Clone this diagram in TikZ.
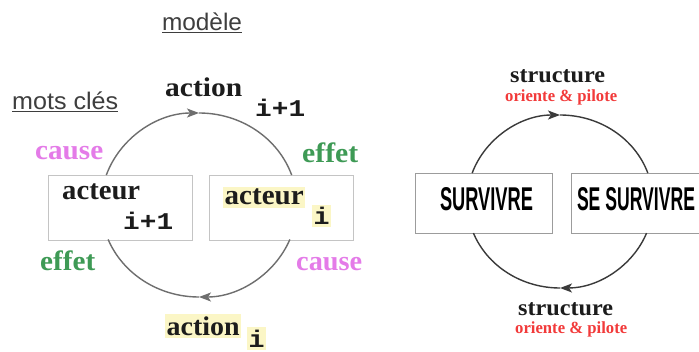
\documentclass[tikz,border=0pt]{standalone}
\usepackage{fontspec}
\setmainfont{Liberation Serif}
\setsansfont{Liberation Sans}
\setmonofont{Liberation Mono}
\usepackage{graphicx}
\usetikzlibrary{arrows.meta,calc}
\definecolor{pinkc}{HTML}{E47BE8}
\definecolor{greenc}{HTML}{3E9A55}
\definecolor{redc}{HTML}{F23A3A}
\definecolor{hl}{HTML}{FBF6C6}
\definecolor{arcl}{HTML}{6E6E6E}
\definecolor{arcr}{HTML}{3A3A3A}
\definecolor{boxl}{HTML}{C4C4C4}
\definecolor{boxr}{HTML}{9C9C9C}
\definecolor{ink}{HTML}{1C1C1C}
\newcommand\fw[2]{\resizebox{#1pt}{\height}{#2}}
\tikzset{
  lbl/.style={inner sep=0pt, anchor=base west, text=ink},
  serifb/.style={font=\fontsize{#1}{#1}\selectfont\bfseries},
  monob/.style={font=\fontsize{#1}{#1}\selectfont\ttfamily\bfseries},
  sansl/.style={font=\fontsize{#1}{#1}\selectfont\sffamily, text=ink!85},
  hlbox/.style={fill=hl, inner xsep=1.5pt, inner ysep=2.5pt, anchor=base west, text=ink},
  boxL/.style={draw=boxl, line width=0.9pt, minimum width=144pt, minimum height=65pt},
  boxR/.style={draw=boxr, line width=0.9pt, minimum width=137pt, minimum height=60pt},
  cyc/.style={line width=1.4pt},
  cyca/.style={line width=1.4pt, -{Stealth[length=12pt,width=9pt,inset=3pt]}},
}
\begin{document}
\begin{tikzpicture}[x=1pt,y=1pt]
\useasboundingbox[fill=white] (0,0) rectangle (699,351);

% ---------- left diagram ----------
\node[lbl, sansl=24, anchor=base] (modele) at (202,320) {\fw{80}{\underline{modèle}}};
\node[lbl, sansl=24] (mots) at (12,241) {\fw{106}{\underline{mots clés}}};

\node[boxL] (acteurL) at (120,143.5) {};
\node[boxL] (acteurR) at (281,143.5) {};

\node[lbl, serifb=27] (actT) at (165,254) {\fw{77}{action}};
\node[lbl, monob=24] (ip1T) at (255,234) {\fw{50}{i+1}};

\node[lbl, serifb=28] (acL) at (62,151) {\fw{78}{acteur}};
\node[lbl, monob=24] (ip1L) at (123,121) {\fw{50}{i+1}};

\node[hlbox, serifb=28] (acR) at (223,146) {\fw{79}{acteur}};
\node[hlbox, monob=24] (iR) at (312,126) {\fw{16}{i}};

\node[hlbox, serifb=27] (actB) at (165,16) {\fw{73}{action}};
\node[hlbox, monob=24] (iB) at (247,4) {\fw{16}{i}};

\node[lbl, serifb=28, text=pinkc] (causeTL) at (35,191) {\fw{68}{cause}};
\node[lbl, serifb=28, text=greenc] (effetTR) at (302,188) {\fw{56}{effet}};
\node[lbl, serifb=28, text=greenc] (effetBL) at (40,80) {\fw{55}{effet}};
\node[lbl, serifb=28, text=pinkc] (causeBR) at (296,81) {\fw{66}{cause}};

\coordinate (lc) at (199,146);
\coordinate (lTs) at ($(lc)+(161:98 and 92)$);
\coordinate (lTm) at ($(lc)+(90:98 and 92)$);
\coordinate (lBs) at ($(lc)+(-22:98 and 92)$);
\coordinate (lBm) at ($(lc)+(-90:98 and 92)$);
\draw[cyca, draw=arcl] (lTs) arc[start angle=161, end angle=90, x radius=98, y radius=92];
\draw[cyc, draw=arcl] (lTm) arc[start angle=90, end angle=19, x radius=98, y radius=92];
\draw[cyca, draw=arcl] (lBs) arc[start angle=-22, end angle=-90, x radius=98, y radius=92];
\draw[cyc, draw=arcl] (lBm) arc[start angle=-90, end angle=-158, x radius=98, y radius=92];

% ---------- right diagram ----------
\node[boxR] (surv) at (483.5,148) {};
\draw[draw=boxr, line width=0.9pt] (571,118) rectangle (705,178);
\node[boxR, draw=none, minimum width=134pt] (sesurv) at (638,148) {};

\node[lbl, font=\sffamily\bfseries, text=black, anchor=base] (survT) at (486.5,140) {\resizebox{93pt}{23pt}{SURVIVRE}};
\node[lbl, font=\sffamily\bfseries, text=black, anchor=base] (sesurvT) at (636,140) {\resizebox{118pt}{23pt}{SE SURVIVRE}};

\node[lbl, serifb=23] (strT) at (510,268) {\fw{95}{structure}};
\node[lbl, serifb=17, text=redc] (oriT) at (505,249) {\fw{112}{oriente \& pilote}};
\node[lbl, serifb=23] (strB) at (518,36) {\fw{95}{structure}};
\node[lbl, serifb=17, text=redc] (oriB) at (515,18) {\fw{112}{oriente \& pilote}};

\coordinate (rc) at (560,149.5);
\coordinate (rTs) at ($(rc)+(160.8:93 and 86.5)$);
\coordinate (rTm) at ($(rc)+(90:93 and 86.5)$);
\coordinate (rBs) at ($(rc)+(-21.4:93 and 86.5)$);
\coordinate (rBm) at ($(rc)+(-90:93 and 86.5)$);
\draw[cyca, draw=arcr] (rTs) arc[start angle=160.8, end angle=90, x radius=93, y radius=86.5];
\draw[cyc, draw=arcr] (rTm) arc[start angle=90, end angle=19.2, x radius=93, y radius=86.5];
\draw[cyca, draw=arcr] (rBs) arc[start angle=-21.4, end angle=-90, x radius=93, y radius=86.5];
\draw[cyc, draw=arcr] (rBm) arc[start angle=-90, end angle=-158.6, x radius=93, y radius=86.5];
\end{tikzpicture}
\end{document}
